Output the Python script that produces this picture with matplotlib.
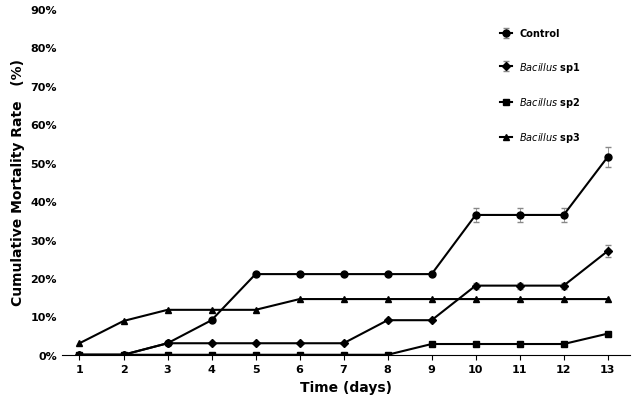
import matplotlib
matplotlib.use("Agg")
import matplotlib.pyplot as plt

days = list(range(1, 14))
control = [0, 0, 3, 9, 21, 21, 21, 21, 21, 36.4, 36.4, 36.4, 51.5]
control_err = [0, 0, 0, 0, 0, 0, 0, 0, 0, 1.8, 1.8, 1.8, 2.5]
sp1 = [0, 0, 3, 3, 3, 3, 3, 9, 9, 18, 18, 18, 27]
sp1_err = [0, 0, 0, 0, 0, 0, 0, 0, 0, 0.8, 0.8, 0.8, 1.5]
sp2 = [0, 0, 0, 0, 0, 0, 0, 0, 2.8, 2.8, 2.8, 2.8, 5.5]
sp3 = [3, 8.8, 11.7, 11.7, 11.7, 14.5, 14.5, 14.5, 14.5, 14.5, 14.5, 14.5, 14.5]
yticks = list(range(0, 91, 10))

fig = plt.figure(figsize=(6.38, 4.02), dpi=100)
ax = fig.add_axes([0.097, 0.115, 0.89, 0.86])
kw = dict(color="black", lw=1.5, ms=5, capsize=2, elinewidth=0.6, ecolor="#888888")
ax.errorbar(days, control, yerr=control_err, marker="o", label="Control", **kw)
ax.errorbar(days, sp1, yerr=sp1_err, marker="D", label=r"$\bf{\it{Bacillus}}$ sp1", **dict(kw, ms=4))
ax.errorbar(days, sp2, marker="s", label=r"$\bf{\it{Bacillus}}$ sp2", **dict(kw, ms=4.5))
ax.errorbar(days, sp3, marker="^", label=r"$\bf{\it{Bacillus}}$ sp3", **kw)

ax.set_xlim(0.6, 13.5)
ax.set_ylim(0, 90)
ax.set_xticks(days)
ax.set_yticks(yticks)
ax.set_yticklabels([f"{v}%" for v in yticks])
for s in ["top", "right", "left"]:
    ax.spines[s].set_visible(False)
ax.tick_params(axis="y", length=0, labelsize=8)
ax.tick_params(axis="x", labelsize=8)
for t in ax.get_xticklabels() + ax.get_yticklabels():
    t.set_fontweight("bold")
ax.set_xlabel("Time (days)", fontsize=10, fontweight="bold")
ax.set_ylabel("Cumulative Mortality Rate   (%)", fontsize=10, fontweight="bold")
leg = ax.legend(loc="upper right", frameon=False, labelspacing=2.2, handlelength=1.2,
                prop={"weight": "bold", "size": 7}, bbox_to_anchor=(0.93, 0.97))
fig.savefig("out.png", dpi=100)
